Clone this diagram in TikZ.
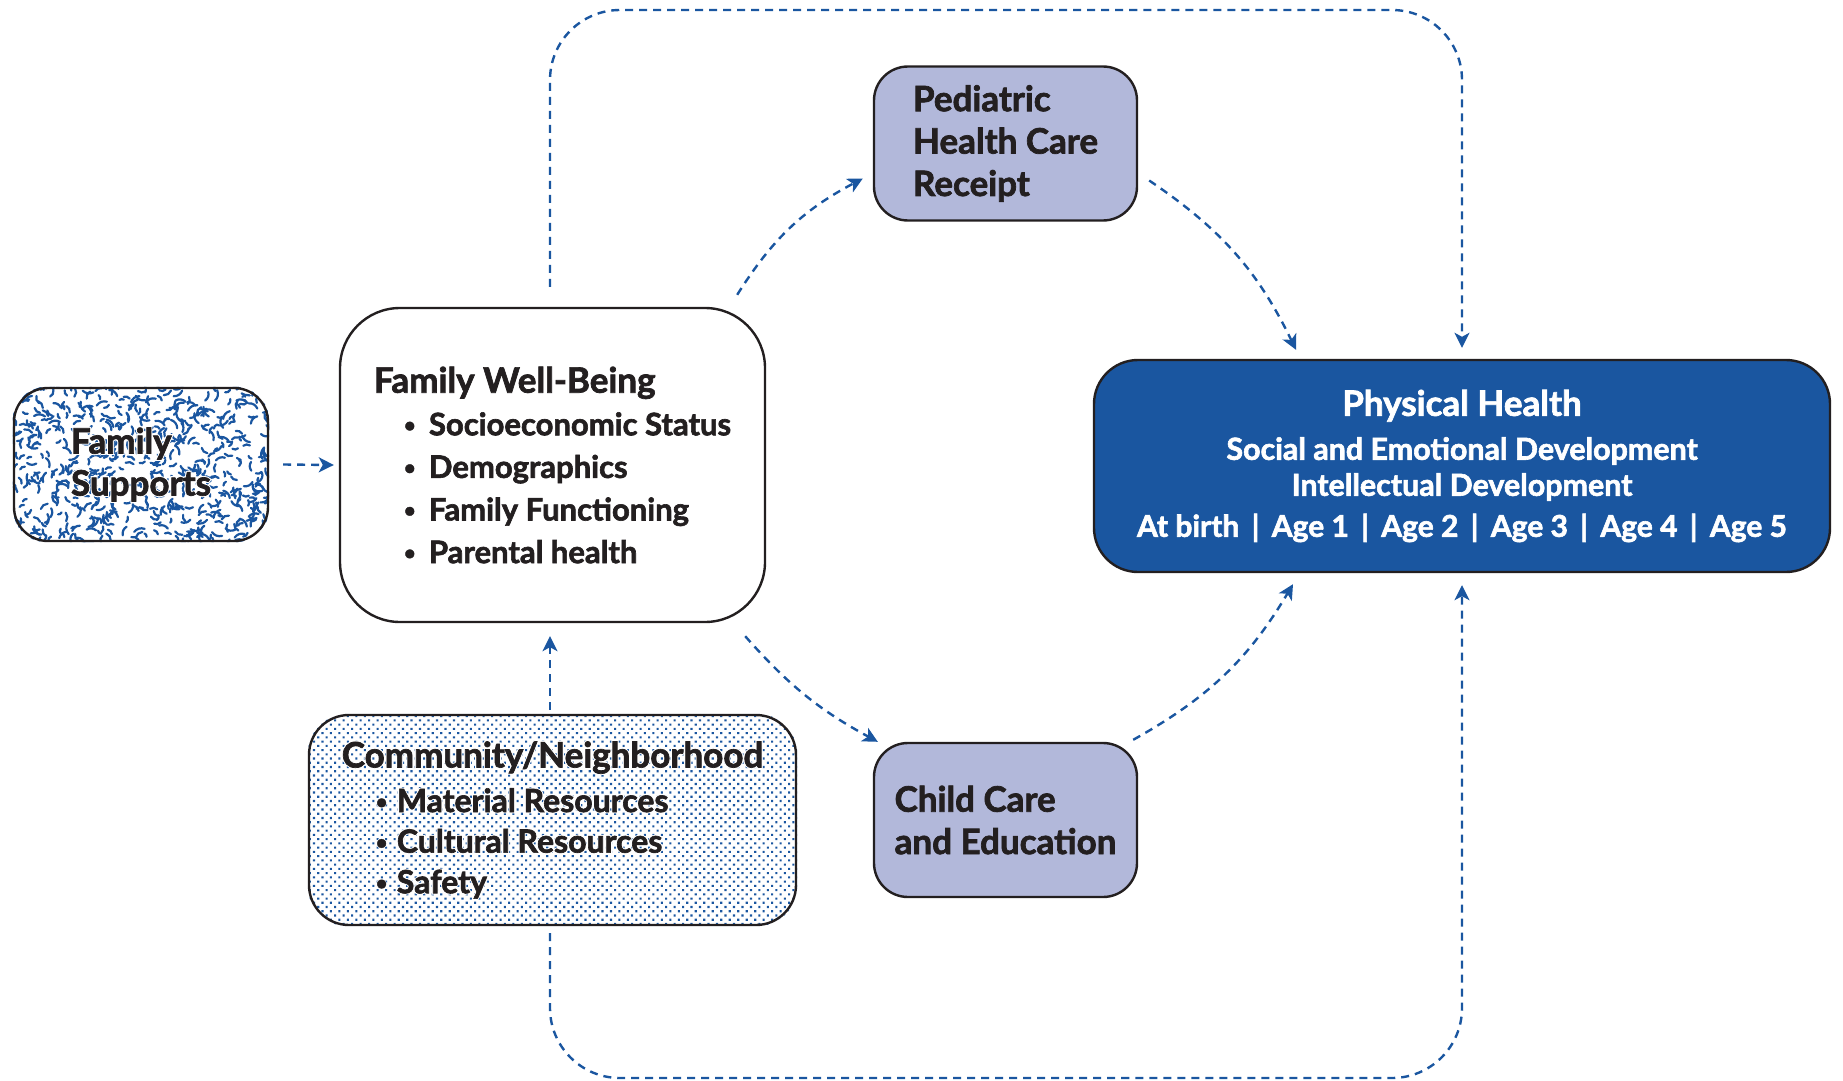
\documentclass[tikz,border=0pt]{standalone}
\usepackage{fontspec}
\setmainfont{Lato}[BoldFeatures={FakeBold=2}]
\newfontfamily\halofont{Lato}[BoldFeatures={FakeBold=8}]
\usetikzlibrary{arrows.meta,patterns.meta,backgrounds}

\definecolor{flowblue}{HTML}{1A56A0}
\definecolor{carefill}{HTML}{B2B8DA}
\definecolor{inkdark}{HTML}{231F20}

\newcommand\itemdot[1]{\makebox[#1][l]{\raisebox{1.6pt}{\fontsize{10}{10}\selectfont\textbullet}}}
\newcommand\fstext{Family\\Supports}
\newcommand\commtext{{\fontsize{17.5}{20.3}\selectfont Community/Neighborhood}\\[2pt]
    \hspace*{17pt}\itemdot{10.5pt}Material Resources\\
    \hspace*{17pt}\itemdot{10.5pt}Cultural Resources\\
    \hspace*{17pt}\itemdot{10.5pt}Safety}

\begin{document}
\begin{tikzpicture}[
        x = 0.5pt, y = -0.5pt,
        text = inkdark,
        box/.style = {draw=inkdark, line width=1.2pt, align=left, inner sep=0pt},
        carebox/.style = {box, fill=carefill, minimum width=131.5pt, minimum height=77pt,
            rounded corners=17pt, font=\fontsize{17.5}{21.2}\selectfont\bfseries},
        fsbox/.style = {box, minimum width=127pt, minimum height=76.5pt, rounded corners=17pt},
        commbox/.style = {box, minimum width=243.5pt, minimum height=105pt, rounded corners=20pt},
        halo/.style = {draw=none, text=white},
        flow/.style = {flowblue, line width=1.2pt, dash pattern=on 4pt off 3pt,
            -{Stealth[length=7.5pt, width=7.5pt, inset=2pt]}},
        bigloop/.style = {flow, rounded corners=35pt},
        squiggle/.style = {flowblue, line width=1.1pt, line cap=round}
    ]
        \useasboundingbox (0,0) rectangle (1843,1081);

        \node[fsbox, font=\fontsize{17.5}{21}\selectfont\bfseries] (fs) at (141,464.5) {\fstext};

        \node[box, fill=white, minimum width=212.5pt, minimum height=157pt, rounded corners=30pt,
            font=\fontsize{15.5}{21.3}\selectfont\bfseries] (fwb) at (552.5,465)
            {{\fontsize{17.5}{21.3}\selectfont Family Well-Being}\\
             \hspace*{15pt}\itemdot{12.5pt}Socioeconomic Status\\
             \hspace*{15pt}\itemdot{12.5pt}Demographics\\
             \hspace*{15pt}\itemdot{12.5pt}Family Functioning\\
             \hspace*{15pt}\itemdot{12.5pt}Parental health};

        \node[carebox] (ped) at (1005.5,143.5) {Pediatric\\Health Care\\Receipt};
        \node[carebox] (cc) at (1005.5,820) {Child Care\\and Education};

        \node[box, fill=flowblue, text=white, align=center, minimum width=368pt, minimum height=106pt,
            rounded corners=22pt, font=\fontsize{15.2}{18}\selectfont\bfseries] (ph) at (1462,466)
            {{\fontsize{17.5}{18}\selectfont Physical Health}\\[4pt]
             Social and Emotional Development\\
             Intellectual Development\\[2.5pt]
             {\fontsize{15}{18}\selectfont At birth \,|\, Age 1 \,|\, Age 2 \,|\, Age 3 \,|\, Age 4 \,|\, Age 5}};

        \node[commbox, font=\fontsize{16}{20.3}\selectfont\bfseries] (comm) at (552.5,820) {\commtext};

        % textures and white halos behind the two patterned boxes
        \begin{scope}[on background layer]
            \path[pattern={Dots[distance=3pt, radius=0.75pt, angle=45]}, pattern color=flowblue,
                rounded corners=20pt] (comm.south west) rectangle (comm.north east);
            \node[commbox, halo, font=\halofont\fontsize{16}{20.3}\selectfont\bfseries] (commhalo) at (comm.center) {\commtext};
            \begin{scope}
                \clip[rounded corners=17pt] (fs.south west) rectangle (fs.north east);
                \pgfmathsetseed{11}
                \foreach \k in {1,...,650}{
                    \pgfmathsetmacro\px{8+266*rnd}
                    \pgfmathsetmacro\py{382+165*rnd}
                    \pgfmathsetmacro\pa{360*rnd}
                    \pgfmathsetmacro\pl{4+7*rnd}
                    \draw[squiggle] (\px,\py) to[bend left=35] ++(\pa:\pl);
                }
            \end{scope}
            \node[fsbox, halo, font=\halofont\fontsize{17.5}{21}\selectfont\bfseries] (fshalo) at (fs.center) {\fstext};
        \end{scope}

        \coordinate (topline) at (0,10);
        \coordinate (botline) at (0,1078);

        \draw[flow] ([shift={(14,0)}]fs.east) -- ([shift={(-5,0)}]fwb.west);
        \draw[flow] ([shift={(-2.5,-4)}]comm.north) -- ([shift={(-2.5,13)}]fwb.south);
        \draw[flow] ([shift={(-29,-12)}]fwb.north east) to[bend left=15] ([shift={(-10,35)}]ped.west);
        \draw[flow] ([shift={(11,37)}]ped.east) to[bend left=15] ([shift={(-166,-9)}]ph.north);
        \draw[flow] ([shift={(-21,13)}]fwb.south east) to[bend right=10] ([shift={(5,0)}]cc.north west);
        \draw[flow] ([shift={(-5,-2)}]cc.north east) to[bend right=15] ([shift={(-169,11)}]ph.south);

        \draw[bigloop] ([shift={(-2.5,-20)}]fwb.north) |- (ph.north |- topline) -- ([shift={(0,-11)}]ph.north);
        \draw[bigloop] ([shift={(-2.5,7)}]comm.south) |- (ph.south |- botline) -- ([shift={(0,12)}]ph.south);

    \end{tikzpicture}
\end{document}
